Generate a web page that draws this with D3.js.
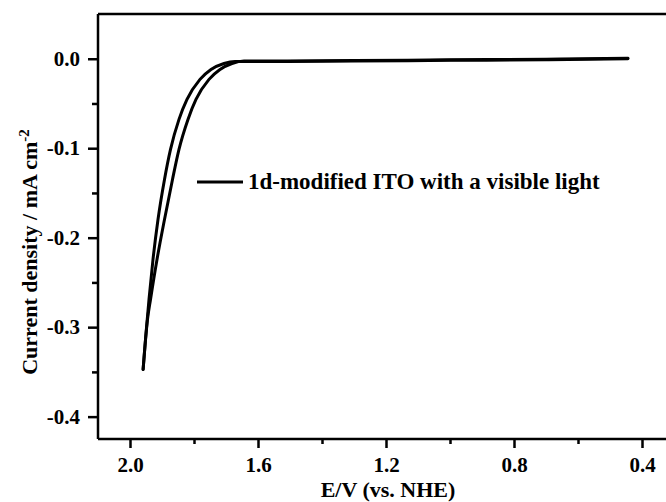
<!DOCTYPE html>
<html>
<head>
<meta charset="utf-8">
<script src="https://cdn.jsdelivr.net/npm/d3@7"></script>
<style>
  html, body { margin: 0; padding: 0; background: #fff; }
  svg { display: block; }
  text { font-family: "Liberation Serif", "Times New Roman", serif; font-weight: bold; fill: #000; }
</style>
</head>
<body>
<svg id="chart" width="666" height="502"></svg>
<script>
// ---- data ----
const seriesName = "1d-modified ITO with a visible light";
// forward scan branch (inner curve), E ascending
const forwardE = [0.444, 0.70, 1.00, 1.30, 1.55, 1.6438, 1.6813, 1.7188, 1.7531, 1.7938, 1.8188, 1.8469, 1.8672, 1.8922, 1.9156, 1.9359, 1.9453, 1.959];
const forwardJ = [0.0005, -0.0005, -0.0012, -0.002, -0.0025, -0.0025, -0.0053, -0.0120, -0.0231, -0.0455, -0.0678, -0.1013, -0.1349, -0.1796, -0.2243, -0.2690, -0.2913, -0.3472];
// reverse scan branch (outer curve), E ascending
const reverseE = [0.444, 0.70, 1.00, 1.30, 1.55, 1.6719, 1.7063, 1.7469, 1.7813, 1.8219, 1.8469, 1.8734, 1.8922, 1.9125, 1.9281, 1.9406, 1.9516, 1.959];
const reverseJ = [0.0, -0.0011, -0.0018, -0.0026, -0.0031, -0.0030, -0.0053, -0.0120, -0.0231, -0.0455, -0.0678, -0.1013, -0.1349, -0.1796, -0.2243, -0.2690, -0.3136, -0.3472];

const xMajorTicks = [2.0, 1.6, 1.2, 0.8, 0.4];
const xMinorTicks = [1.8, 1.4, 1.0, 0.6];
const yMajorTicks = [0.0, -0.1, -0.2, -0.3, -0.4];
const yMinorTicks = [-0.05, -0.15, -0.25, -0.35];
const xDomain = [2.1, 0.3];
const yDomain = [-0.425, 0.05];

// ---- layout ----
const svg = d3.select("#chart");
const mLeft = 98, mTop = 14, mBottom = 439;
const x = d3.scaleLinear().domain(xDomain).range([mLeft, mLeft + (xDomain[0] - xDomain[1]) * 320]);
const y = d3.scaleLinear().domain(yDomain).range([mBottom, mTop]);
const mRight = x(xDomain[1]);
const fmt = d => d3.format(".1f")(d).replace("\u2212", "-");

// frame (top + right)
svg.append("path")
  .attr("d", `M${mLeft},${mTop}H${mRight}V${mBottom}`)
  .attr("fill", "none").attr("stroke", "#000").attr("stroke-width", 2.5);

// x axis
const gx = svg.append("g").attr("transform", `translate(0,${mBottom})`);
const gxMajor = gx.append("g")
  .call(d3.axisBottom(x).tickValues(xMajorTicks).tickFormat(fmt).tickSize(9).tickPadding(9).tickSizeOuter(0));
gx.append("g").call(d3.axisBottom(x).tickValues(xMinorTicks).tickFormat("").tickSize(5).tickSizeOuter(0))
  .select(".domain").remove();
gxMajor.select("path.domain").attr("stroke-width", 2.5).attr("d", `M${mLeft},0H${mRight}`);
gx.selectAll(".tick line").attr("stroke-width", 2.5);
gxMajor.selectAll(".tick text").style("font-size", "21px").attr("dy", "0.71em");

// y axis
const gy = svg.append("g").attr("transform", `translate(${mLeft},0)`);
const gyMajor = gy.append("g")
  .call(d3.axisLeft(y).tickValues(yMajorTicks).tickFormat(fmt).tickSize(10).tickPadding(8).tickSizeOuter(0));
gy.append("g").call(d3.axisLeft(y).tickValues(yMinorTicks).tickFormat("").tickSize(6).tickSizeOuter(0))
  .select(".domain").remove();
gyMajor.select("path.domain").attr("stroke-width", 2.5).attr("d", `M0,${mTop}V${mBottom}`);
gy.selectAll(".tick line").attr("stroke-width", 2.5);
gyMajor.selectAll(".tick text").style("font-size", "21px");

// axis titles
svg.append("text").attr("x", 388).attr("y", 497).attr("text-anchor", "middle")
  .style("font-size", "22px").text("E/V (vs. NHE)");
const yt = svg.append("text").attr("transform", "translate(37,252) rotate(-90)")
  .attr("text-anchor", "middle").style("font-size", "22px");
yt.append("tspan").text("Current density / mA cm");
yt.append("tspan").attr("dy", "-0.55em").style("font-size", "15px").text("-2");

// curve: two scan branches
const line = d3.line().x(d => x(d[0])).y(d => y(d[1])).curve(d3.curveMonotoneX);
[[forwardE, forwardJ], [reverseE, reverseJ]].forEach(([es, js]) => {
  svg.append("path").datum(es.map((e, i) => [e, js[i]])).attr("d", line)
    .attr("fill", "none").attr("stroke", "#000").attr("stroke-width", 3)
    .attr("stroke-linejoin", "round").attr("stroke-linecap", "round");
});

// legend
svg.append("line").attr("x1", 197).attr("x2", 243).attr("y1", 182).attr("y2", 182)
  .attr("stroke", "#000").attr("stroke-width", 3);
svg.append("text").attr("x", 248).attr("y", 189).style("font-size", "23px").text(seriesName);
</script>
</body>
</html>
